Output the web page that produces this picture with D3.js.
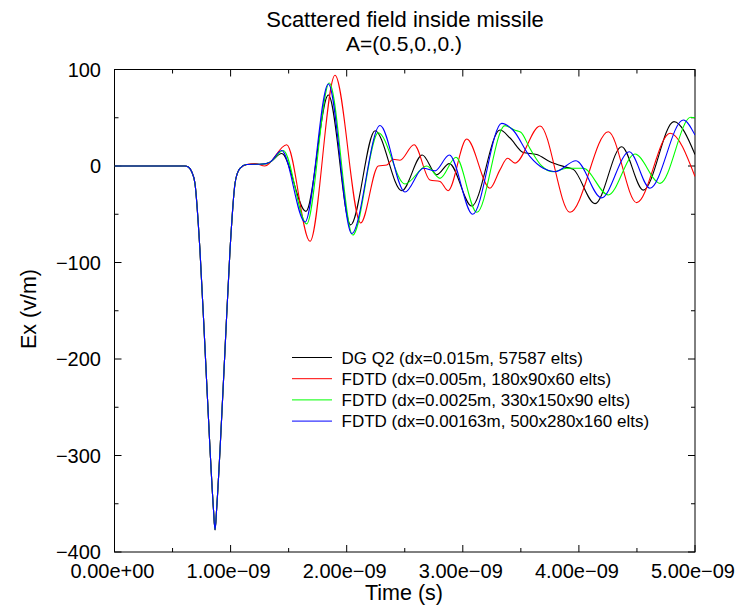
<!DOCTYPE html>
<html><head><meta charset="utf-8">
<script src="https://cdn.jsdelivr.net/npm/d3@7"></script>
<style>body{margin:0;background:#fff}text{font-family:"Liberation Sans",Arial,sans-serif}</style>
</head><body><svg id="c" width="739" height="607"></svg>
<script>
// time in ns, field in V/m
const pulseT = [0,0.478,0.607,0.636,0.665,0.693,0.736,0.780,0.823,0.852,0.866,0.880,0.909,0.952,0.995,1.038,1.058,1.081,1.139];
const pulseV = [0,0,0,-1,-6,-18,-87,-190,-294,-355,-377,-355,-294,-190,-87,-18,-7.6,-2.4,1.5];

const dgT = [1.279,1.339,1.44,1.649,1.842,2.034,2.244,2.474,2.651,2.775,2.884,3.077,3.32,3.407,3.521,3.637,3.751,3.895,3.952,4.139,4.368,4.555,4.819,5.0];
const dgV = [2,4,13,-47,73.6,-61,36.6,-25.6,11.4,-9,2.5,-41.5,37.3,29,14,12,4.5,-1.4,-3.5,-39,20,-25,46,12];

const fd1T = [1.21,1.295,1.483,1.684,1.899,2.121,2.272,2.345,2.399,2.459,2.58,2.717,2.804,2.873,3.034,3.234,3.32,3.385,3.45,3.665,3.923,4.253,4.498,4.785,5.0];
const fd1V = [2.5,0,22,-78,94,-59,0,1,7,6,22,-14.5,-16,-25.6,28,-23,-4,8,3,41.5,-48,35.5,-38,34,-11];

const fd2T = [1.279,1.339,1.454,1.655,1.85,2.052,2.272,2.502,2.689,2.804,2.941,3.121,3.363,3.45,3.5,3.579,3.68,3.78,3.895,4.038,4.253,4.483,4.699,4.963,5.0];
const fd2V = [2,4,16,-60,86,-71.5,34.5,-18.6,0,-12.8,9,-48,41.8,37,35,18,0,-6,-2.4,-2.4,-30,12.4,-18,50.5,50];

const fd3T = [1.279,1.339,1.44,1.641,1.842,2.043,2.287,2.502,2.66,2.76,2.884,3.085,3.335,3.432,3.579,3.693,3.794,3.975,4.194,4.434,4.612,4.899,5.0];
const fd3V = [2,4,16,-58,85,-70,42,-27,-2.4,-5,11.4,-50,44.2,37.3,9.7,-2.4,-5.9,5.5,-33,14.8,-23,47.7,32];

const seriesNames = ["DG Q2 (dx=0.015m, 57587 elts)","FDTD (dx=0.005m, 180x90x60 elts)","FDTD (dx=0.0025m, 330x150x90 elts)","FDTD (dx=0.00163m, 500x280x160 elts)"];
const seriesColors = ["#000000","#ff0000","#00ff00","#0000ff"];
const xTickVals = [0,1e-9,2e-9,3e-9,4e-9,5e-9];
const xTickLabels = ["0.00e+00","1.00e\u221209","2.00e\u221209","3.00e\u221209","4.00e\u221209","5.00e\u221209"];
const yTickVals = [100,0,-100,-200,-300,-400];
const yTickLabels = ["100","0","\u2212100","\u2212200","\u2212300","\u2212400"];

const tails = [[dgT,dgV],[fd1T,fd1V],[fd2T,fd2V],[fd3T,fd3V]];
const series = tails.map(([T,V]) => {
  const pts = pulseT.map((t,i)=>[t*1e-9,pulseV[i]]);
  T.forEach((t,i)=>pts.push([t*1e-9,V[i]]));
  return pts;
});

const L=114.5,R=695,Tp=69.5,B=552;
const x = d3.scaleLinear().domain([0,5e-9]).range([L,R]);
const y = d3.scaleLinear().domain([-400,100]).range([B,Tp]);
const svg = d3.select("#c");

svg.append("defs").append("clipPath").attr("id","clip").append("rect")
  .attr("x",L).attr("y",Tp).attr("width",R-L).attr("height",B-Tp);

// frame
svg.append("rect").attr("x",L).attr("y",Tp).attr("width",R-L).attr("height",B-Tp)
  .attr("fill","none").attr("stroke","#000").attr("stroke-width",1);

// ticks (inward) on all sides
const xMinor = d3.range(0,5.01e-9,0.5e-9);
xMinor.forEach((v,i)=>{
  const len = (i%2===0)?7:4;
  svg.append("line").attr("x1",x(v)).attr("x2",x(v)).attr("y1",B).attr("y2",B-len).attr("stroke","#000");
  svg.append("line").attr("x1",x(v)).attr("x2",x(v)).attr("y1",Tp).attr("y2",Tp+len).attr("stroke","#000");
});
d3.range(-400,101,50).forEach(v=>{
  const len = (v%100===0)?7:4;
  svg.append("line").attr("x1",L).attr("x2",L+len).attr("y1",y(v)).attr("y2",y(v)).attr("stroke","#000");
  svg.append("line").attr("x1",R).attr("x2",R-len).attr("y1",y(v)).attr("y2",y(v)).attr("stroke","#000");
});

// tick labels
xTickVals.forEach((v,i)=>{
  svg.append("text").attr("x",x(v)-2).attr("y",578).attr("text-anchor","middle")
    .attr("font-size",20).text(xTickLabels[i]);
});
yTickVals.forEach((v,i)=>{
  svg.append("text").attr("x",101).attr("y",y(v)+7).attr("text-anchor","end")
    .attr("font-size",20).text(yTickLabels[i]);
});

// titles
svg.append("text").attr("x",405).attr("y",27).attr("text-anchor","middle").attr("font-size",22).text("Scattered field inside missile");
svg.append("text").attr("x",404).attr("y",51).attr("text-anchor","middle").attr("font-size",21).text("A=(0.5,0.,0.)");
svg.append("text").attr("x",404).attr("y",600).attr("text-anchor","middle").attr("font-size",21.5).text("Time (s)");
svg.append("text").attr("transform","translate(36,309) rotate(-90)").attr("text-anchor","middle").attr("font-size",21.5).text("Ex (v/m)");

// curves
const line = d3.line().x(d=>x(d[0])).y(d=>y(d[1])).curve(d3.curveMonotoneX);
const g = svg.append("g").attr("clip-path","url(#clip)");
series.forEach((s,i)=>{
  g.append("path").attr("d",line(s)).attr("fill","none").attr("stroke",seriesColors[i]).attr("stroke-width",1.1);
});

// legend
seriesNames.forEach((n,i)=>{
  const yy = 357.5 + i*21.2;
  svg.append("line").attr("x1",292).attr("x2",332).attr("y1",yy).attr("y2",yy).attr("stroke",seriesColors[i]).attr("stroke-width",1);
  svg.append("text").attr("x",341.5).attr("y",yy+6).attr("font-size",17).text(n);
});
</script></body></html>
